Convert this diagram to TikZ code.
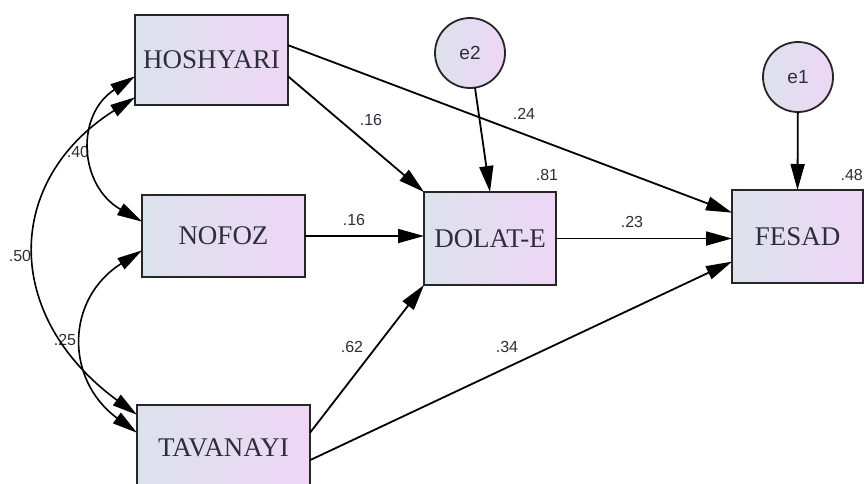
\documentclass[tikz,border=0pt]{standalone}
\usepackage{fontspec}
\setmainfont{Liberation Serif}
\newfontfamily\lblfont{Liberation Sans}
\usetikzlibrary{arrows.meta,calc}
\definecolor{gleft}{HTML}{DCE2EC}
\definecolor{gright}{HTML}{EED6F6}
\definecolor{txt}{HTML}{2E2E3A}
\tikzset{
  var/.style={draw=black!85, line width=1.8pt, left color=gleft, right color=gright,
    inner sep=0pt, outer sep=0pt, font=\fontsize{27}{27}\selectfont, text=txt},
  err/.style={circle, draw=black!85, line width=1.8pt, left color=gleft, right color=gright,
    minimum size=70pt, inner sep=0pt, outer sep=0pt, font=\lblfont\fontsize{19}{19}\selectfont, text=txt},
  arr/.style={line width=1.8pt, -{Triangle[length=26pt,width=14pt]}},
  carr/.style={line width=1.6pt, {Triangle[length=25pt,width=13pt]}-{Triangle[length=25pt,width=13pt]}},
  lbl/.style={font=\lblfont\fontsize{16}{16}\selectfont, text=txt, inner sep=0pt}
}
\begin{document}
\begin{tikzpicture}[x=1pt,y=-1pt]
\useasboundingbox (0,0) rectangle (864,483);
\clip (0,0) rectangle (864,483);
\fill[white] (0,0) rectangle (864,483);

% variables
\node[var, minimum width=153pt, minimum height=90pt] (hosh) at (211.5,60) {HOSHYARI};
\node[var, minimum width=163pt, minimum height=82pt] (nofoz) at (223.5,236) {NOFOZ};
\node[var, minimum width=173pt, minimum height=86pt] (tav) at (223.5,448) {TAVANAYI};
\node[var, minimum width=132pt, minimum height=93pt] (dolat) at (490,238.5) {DOLAT-E};
\node[var, minimum width=131pt, minimum height=93pt] (fesad) at (797.5,236.5) {FESAD};
\node[err] (e2) at (470,53) {e2};
\node[err] (e1) at (798,77) {e1};

% labels
\node[lbl] (l40) at (78,152) {.40};
\node[lbl] (l50) at (20,256) {.50};
\node[lbl] (l25) at (65,340) {.25};
\node[lbl] (l16a) at (371,120) {.16};
\node[lbl] (l24) at (524,114) {.24};
\node[lbl] (l81) at (547,175) {.81};
\node[lbl] (l16b) at (354,220) {.16};
\node[lbl] (l23) at (632,222) {.23};
\node[lbl, anchor=east] (l48) at (863,175) {.48};
\node[lbl] (l62) at (352,347) {.62};
\node[lbl] (l34) at (507,347) {.34};

% paths
\draw[arr] (hosh.-12) -- (dolat.north west);
\draw[arr] (hosh.11) -- (fesad.160);
\draw[arr] (nofoz.east) -- (nofoz.east -| dolat.west);
\draw[arr] (dolat.east) -- (dolat.east -| fesad.west);
\draw[arr] (tav.10) -- (dolat.south west);
\draw[arr] (tav.-8) -- (fesad.201);
\draw[arr] (e2) -- (dolat.north);
\draw[arr] (e1) -- (fesad.north);

% covariances
\draw[carr] (hosh.206) .. controls +(-131,83) and +(-135,-99) .. (tav.159);
\draw[carr] (hosh.192) .. controls +(-60,39) and +(-63,-36) .. (nofoz.170);
\draw[carr] (nofoz.190) .. controls +(-77,49) and +(-72,-53) .. (tav.170);
\end{tikzpicture}
\end{document}
